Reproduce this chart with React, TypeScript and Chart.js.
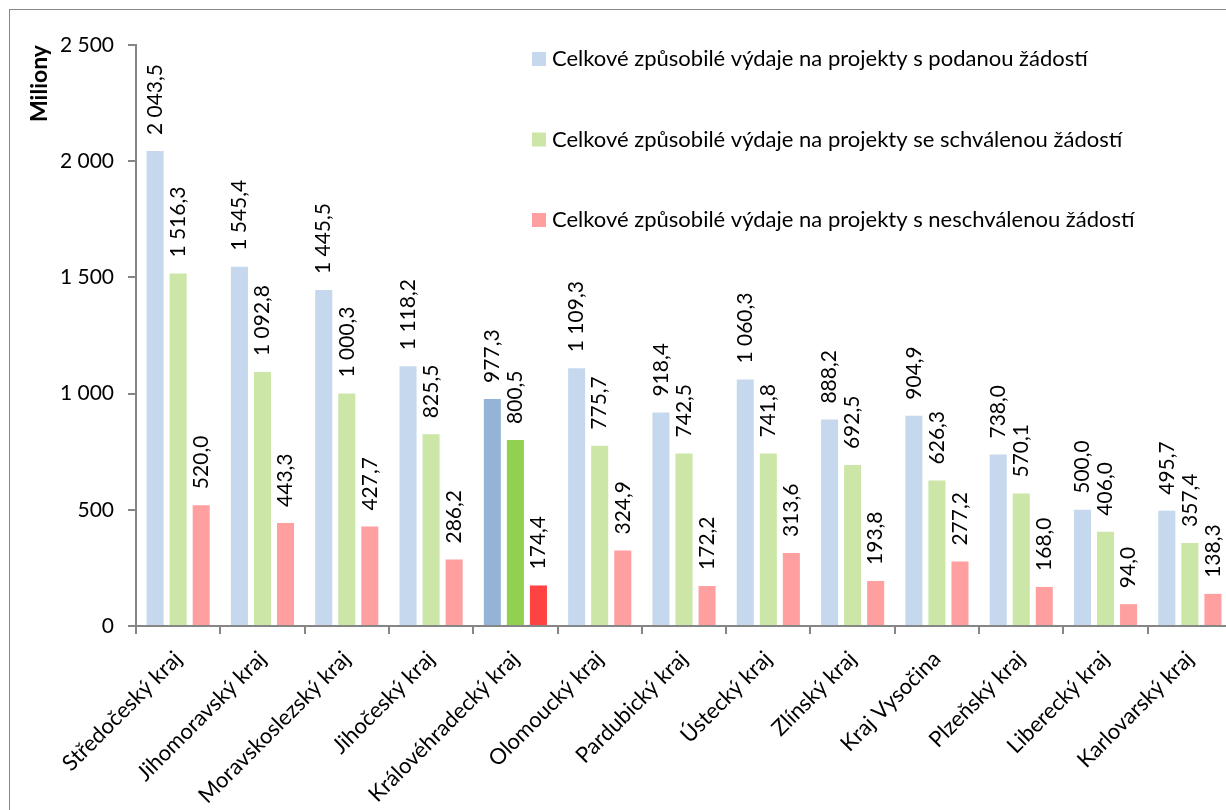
import React, { useEffect, useRef } from "react";
import { Chart, registerables } from "chart.js";

Chart.register(...registerables);

const categories = [
  "Středočeský kraj",
  "Jihomoravský kraj",
  "Moravskoslezský kraj",
  "Jihočeský kraj",
  "Královéhradecký kraj",
  "Olomoucký kraj",
  "Pardubický kraj",
  "Ústecký kraj",
  "Zlínský kraj",
  "Kraj Vysočina",
  "Plzeňský kraj",
  "Liberecký kraj",
  "Karlovarský kraj",
];

const seriesLabels = [
  "Celkové způsobilé výdaje na projekty s podanou žádostí",
  "Celkové způsobilé výdaje na projekty se schválenou žádostí",
  "Celkové způsobilé výdaje na projekty s neschválenou žádostí",
];

const podanou = [2043.5, 1545.4, 1445.5, 1118.2, 977.3, 1109.3, 918.4, 1060.3, 888.2, 904.9, 738.0, 500.0, 495.7];
const schvalenou = [1516.3, 1092.8, 1000.3, 825.5, 800.5, 775.7, 742.5, 741.8, 692.5, 626.3, 570.1, 406.0, 357.4];
const neschvalenou = [520.0, 443.3, 427.7, 286.2, 174.4, 324.9, 172.2, 313.6, 193.8, 277.2, 168.0, 94.0, 138.3];

const highlightIndex = 4;
const lightColors = ["#C6D8EE", "#CBE6A7", "#FF9F9F"];
const darkColors = ["#95B3D7", "#92D050", "#FF4242"];

const yMin = 0;
const yMax = 2500;
const yStep = 500;

const FONT = "Lato";

function fmt(v: number, dec: number): string {
  const s = v.toFixed(dec);
  const [i, d] = s.split(".");
  const ii = i.replace(/\B(?=(\d{3})+(?!\d))/g, " ");
  return d ? ii + "," + d : ii;
}

const valueLabelPlugin = {
  id: "valueLabels",
  afterDatasetsDraw(chart: any) {
    const ctx = chart.ctx;
    ctx.save();
    ctx.font = `21px ${FONT}`;
    ctx.fillStyle = "#000";
    chart.data.datasets.forEach((ds: any, di: number) => {
      const meta = chart.getDatasetMeta(di);
      meta.data.forEach((bar: any, i: number) => {
        const v = ds.data[i];
        ctx.save();
        ctx.translate(bar.x, bar.y - 16);
        ctx.rotate(-Math.PI / 2);
        ctx.textAlign = "left";
        ctx.textBaseline = "middle";
        ctx.fillText(fmt(v, 1), 0, 0);
        ctx.restore();
      });
    });
    ctx.restore();
  },
};

const legendPlugin = {
  id: "customLegend",
  afterDraw(chart: any) {
    const ctx = chart.ctx;
    const { left, top } = chart.chartArea;
    ctx.save();
    ctx.font = `22px ${FONT}`;
    ctx.textAlign = "left";
    ctx.textBaseline = "middle";
    chart.data.datasets.forEach((ds: any, k: number) => {
      const cy = top + 14 + k * 80.5;
      ctx.fillStyle = lightColors[k];
      ctx.fillRect(left + 396, cy - 7, 14, 14);
      ctx.fillStyle = "#000";
      ctx.fillText(ds.label, left + 416, cy);
    });
    ctx.restore();
  },
};

export default function App() {
  const ref = useRef<HTMLCanvasElement>(null);

  useEffect(() => {
    if (!ref.current) return;
    const mk = (k: number) => categories.map((_, i) => (i === highlightIndex ? darkColors[k] : lightColors[k]));
    const chart = new Chart(ref.current, {
      type: "bar",
      data: {
        labels: categories,
        datasets: [
          { label: seriesLabels[0], data: podanou, backgroundColor: mk(0) },
          { label: seriesLabels[1], data: schvalenou, backgroundColor: mk(1) },
          { label: seriesLabels[2], data: neschvalenou, backgroundColor: mk(2) },
        ],
      },
      options: {
        responsive: false,
        animation: false,
        devicePixelRatio: 1,
        layout: { padding: { top: 35, left: 0, right: 0, bottom: 0 } },
        datasets: { bar: { categoryPercentage: 0.82, barPercentage: 0.74 } },
        plugins: {
          legend: { display: false },
          tooltip: { enabled: false },
        },
        scales: {
          x: {
            grid: { drawOnChartArea: false, drawTicks: true, tickLength: 8, color: "#868686", lineWidth: 2, offset: true },
            border: { color: "#868686", width: 2 },
            ticks: {
              autoSkip: false,
              minRotation: 45,
              maxRotation: 45,
              color: "#000",
              padding: 12,
              font: { family: FONT, size: 22 },
            },
            afterFit: (s: any) => {
              s.height = 184;
            },
          },
          y: {
            min: yMin,
            max: yMax,
            grid: { drawOnChartArea: false, drawTicks: true, tickLength: 8, color: "#868686", lineWidth: 2 },
            border: { color: "#868686", width: 2 },
            ticks: {
              stepSize: yStep,
              color: "#000",
              padding: 14,
              font: { family: FONT, size: 21 },
              callback: (v: any) => fmt(Number(v), 0),
            },
            title: {
              display: true,
              text: "Miliony",
              align: "end",
              color: "#000",
              font: { family: FONT, size: 23, weight: "bold" },
              padding: { top: 16, bottom: 0 },
            },
            afterFit: (s: any) => {
              s.width = 126;
            },
          },
        },
      },
      plugins: [valueLabelPlugin, legendPlugin],
    } as any);
    return () => chart.destroy();
  }, []);

  return (
    <div style={{ position: "fixed", left: 0, top: 0, width: 1226, height: 810, overflow: "hidden", background: "#fff" }}>
      <div
        style={{
          position: "absolute",
          left: 9,
          top: 9,
          width: 1300,
          height: 900,
          borderLeft: "1.5px solid #868686",
          borderTop: "1.5px solid #868686",
        }}
      />
      <canvas ref={ref} width={1222} height={800} style={{ position: "absolute", left: 10, top: 10, width: 1222, height: 800 }} />
    </div>
  );
}
